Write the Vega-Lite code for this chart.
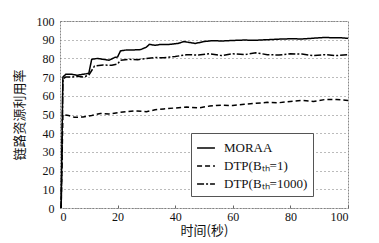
{
  "$schema": "https://vega.github.io/schema/vega-lite/v6.json",
  "width": 288,
  "height": 187,
  "autosize": {"type": "none"},
  "padding": {"left": 60, "top": 21, "right": 31, "bottom": 35},
  "background": "white",
  "config": {
    "font": "Times New Roman",
    "view": {"stroke": "#888", "strokeDash": [2, 1], "strokeWidth": 1},
    "axis": {"labelFont": "Times New Roman", "labelFontSize": 12, "labelColor": "#111", "titleColor": "#111", "domain": false, "tickColor": "#666"}
  },
  "data": {"values": [
    {"s":"MORAA","t":0.4,"v":0},{"s":"MORAA","t":1,"v":70},{"s":"MORAA","t":2,"v":71.5},{"s":"MORAA","t":4,"v":71.5},{"s":"MORAA","t":6,"v":71},{"s":"MORAA","t":8,"v":71.5},{"s":"MORAA","t":10,"v":72},{"s":"MORAA","t":11,"v":79.5},{"s":"MORAA","t":13,"v":80},{"s":"MORAA","t":15,"v":79.5},{"s":"MORAA","t":17,"v":79},{"s":"MORAA","t":19,"v":80.5},{"s":"MORAA","t":20,"v":80.8},{"s":"MORAA","t":21,"v":84},{"s":"MORAA","t":23,"v":84.5},{"s":"MORAA","t":25,"v":84.5},{"s":"MORAA","t":28,"v":84.7},{"s":"MORAA","t":30,"v":86},{"s":"MORAA","t":31,"v":87.5},{"s":"MORAA","t":33,"v":87},{"s":"MORAA","t":35,"v":87.5},{"s":"MORAA","t":38,"v":87.5},{"s":"MORAA","t":41,"v":88},{"s":"MORAA","t":43,"v":89},{"s":"MORAA","t":45,"v":88.5},{"s":"MORAA","t":47,"v":88},{"s":"MORAA","t":50,"v":89},{"s":"MORAA","t":53,"v":89.5},{"s":"MORAA","t":56,"v":89.3},{"s":"MORAA","t":60,"v":89.6},{"s":"MORAA","t":64,"v":89.8},{"s":"MORAA","t":68,"v":89.7},{"s":"MORAA","t":72,"v":90},{"s":"MORAA","t":76,"v":90.3},{"s":"MORAA","t":80,"v":90.5},{"s":"MORAA","t":84,"v":90.4},{"s":"MORAA","t":88,"v":90.8},{"s":"MORAA","t":92,"v":91.2},{"s":"MORAA","t":95,"v":91},{"s":"MORAA","t":97,"v":91.1},{"s":"MORAA","t":100,"v":90.7},
    {"s":"DTP(Bₜₕ=1)","t":0.4,"v":0},{"s":"DTP(Bₜₕ=1)","t":1,"v":50},{"s":"DTP(Bₜₕ=1)","t":3,"v":49.5},{"s":"DTP(Bₜₕ=1)","t":5,"v":48.5},{"s":"DTP(Bₜₕ=1)","t":8,"v":48.7},{"s":"DTP(Bₜₕ=1)","t":11,"v":49.5},{"s":"DTP(Bₜₕ=1)","t":14,"v":50.5},{"s":"DTP(Bₜₕ=1)","t":17,"v":50.3},{"s":"DTP(Bₜₕ=1)","t":20,"v":51},{"s":"DTP(Bₜₕ=1)","t":23,"v":51.5},{"s":"DTP(Bₜₕ=1)","t":26,"v":52},{"s":"DTP(Bₜₕ=1)","t":30,"v":51.5},{"s":"DTP(Bₜₕ=1)","t":33,"v":52.5},{"s":"DTP(Bₜₕ=1)","t":36,"v":53},{"s":"DTP(Bₜₕ=1)","t":40,"v":53.5},{"s":"DTP(Bₜₕ=1)","t":44,"v":54},{"s":"DTP(Bₜₕ=1)","t":48,"v":53.5},{"s":"DTP(Bₜₕ=1)","t":52,"v":54.5},{"s":"DTP(Bₜₕ=1)","t":56,"v":55},{"s":"DTP(Bₜₕ=1)","t":60,"v":54.8},{"s":"DTP(Bₜₕ=1)","t":64,"v":55.5},{"s":"DTP(Bₜₕ=1)","t":68,"v":56},{"s":"DTP(Bₜₕ=1)","t":72,"v":56.5},{"s":"DTP(Bₜₕ=1)","t":76,"v":56.3},{"s":"DTP(Bₜₕ=1)","t":80,"v":57},{"s":"DTP(Bₜₕ=1)","t":84,"v":57.5},{"s":"DTP(Bₜₕ=1)","t":88,"v":57},{"s":"DTP(Bₜₕ=1)","t":92,"v":58},{"s":"DTP(Bₜₕ=1)","t":96,"v":58},{"s":"DTP(Bₜₕ=1)","t":100,"v":57.5},
    {"s":"DTP(Bₜₕ=1000)","t":0.4,"v":0},{"s":"DTP(Bₜₕ=1000)","t":1,"v":69},{"s":"DTP(Bₜₕ=1000)","t":2,"v":70},{"s":"DTP(Bₜₕ=1000)","t":4,"v":70},{"s":"DTP(Bₜₕ=1000)","t":6,"v":70.5},{"s":"DTP(Bₜₕ=1000)","t":8,"v":70},{"s":"DTP(Bₜₕ=1000)","t":10,"v":71},{"s":"DTP(Bₜₕ=1000)","t":12,"v":76},{"s":"DTP(Bₜₕ=1000)","t":15,"v":76.5},{"s":"DTP(Bₜₕ=1000)","t":18,"v":76.3},{"s":"DTP(Bₜₕ=1000)","t":20,"v":77},{"s":"DTP(Bₜₕ=1000)","t":21,"v":79},{"s":"DTP(Bₜₕ=1000)","t":24,"v":79.5},{"s":"DTP(Bₜₕ=1000)","t":27,"v":79.3},{"s":"DTP(Bₜₕ=1000)","t":30,"v":80},{"s":"DTP(Bₜₕ=1000)","t":33,"v":80.5},{"s":"DTP(Bₜₕ=1000)","t":36,"v":80.3},{"s":"DTP(Bₜₕ=1000)","t":40,"v":81},{"s":"DTP(Bₜₕ=1000)","t":44,"v":82},{"s":"DTP(Bₜₕ=1000)","t":48,"v":81.8},{"s":"DTP(Bₜₕ=1000)","t":52,"v":82.5},{"s":"DTP(Bₜₕ=1000)","t":56,"v":81.5},{"s":"DTP(Bₜₕ=1000)","t":60,"v":82.5},{"s":"DTP(Bₜₕ=1000)","t":64,"v":82},{"s":"DTP(Bₜₕ=1000)","t":68,"v":83},{"s":"DTP(Bₜₕ=1000)","t":72,"v":82},{"s":"DTP(Bₜₕ=1000)","t":76,"v":81.8},{"s":"DTP(Bₜₕ=1000)","t":80,"v":82.5},{"s":"DTP(Bₜₕ=1000)","t":84,"v":82.3},{"s":"DTP(Bₜₕ=1000)","t":88,"v":81.5},{"s":"DTP(Bₜₕ=1000)","t":92,"v":82},{"s":"DTP(Bₜₕ=1000)","t":96,"v":81.5},{"s":"DTP(Bₜₕ=1000)","t":100,"v":82}
  ]},
  "mark": {"type": "line", "color": "black", "strokeWidth": 1.5, "clip": true},
  "encoding": {
    "x": {"field": "t", "type": "quantitative", "scale": {"domain": [0, 100], "nice": false},
      "axis": {"values": [0, 20, 40, 60, 80, 100], "grid": false, "tickSize": -3, "labelPadding": 6, "title": "时间(秒)", "titleFont": "Noto Sans CJK SC", "titleFontSize": 13, "titleFontWeight": "normal", "titlePadding": 2}},
    "y": {"field": "v", "type": "quantitative", "scale": {"domain": [0, 100], "nice": false},
      "axis": {"values": [0, 10, 20, 30, 40, 50, 60, 70, 80, 90, 100], "grid": true, "gridColor": "#777", "gridDash": [1, 3], "gridWidth": 1, "ticks": false, "labelPadding": 6, "title": "链路资源利用率", "titleFont": "Noto Sans CJK SC", "titleFontSize": 13, "titleFontWeight": "normal", "titlePadding": 10}},
    "strokeDash": {"field": "s", "type": "nominal",
      "scale": {"domain": ["MORAA", "DTP(Bₜₕ=1)", "DTP(Bₜₕ=1000)"], "range": [[1, 0], [5, 3], [7, 2, 2, 2]]},
      "legend": {"title": null, "orient": "none", "legendX": 131, "legendY": 112, "fillColor": "white", "strokeColor": "#555", "padding": 5, "rowPadding": 1, "labelFont": "Times New Roman", "labelFontSize": 13, "labelColor": "#111", "symbolType": "stroke", "symbolStrokeColor": "black", "symbolStrokeWidth": 1.5, "symbolSize": 320, "labelOffset": 8}}
  }
}
